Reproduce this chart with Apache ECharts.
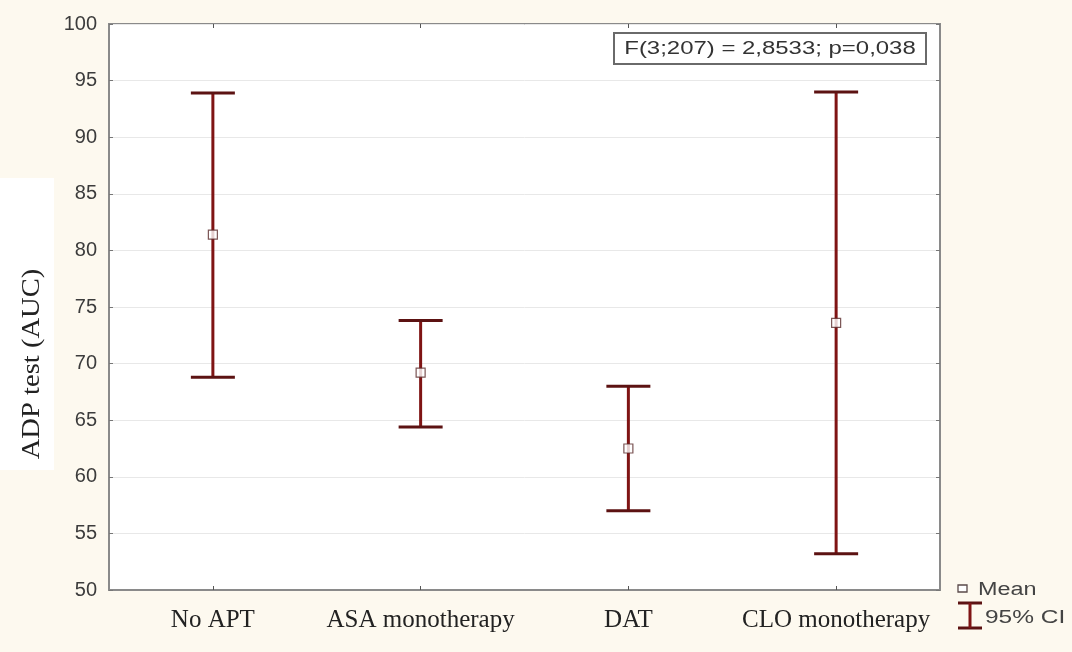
<!DOCTYPE html>
<html>
<head>
<meta charset="utf-8">
<script src="https://cdn.jsdelivr.net/npm/echarts@6/dist/echarts.min.js"></script>
<style>
html,body{margin:0;padding:0;background:#fdf9ef;}
#c{width:1072px;height:652px;}
</style>
</head>
<body>
<div id="c"></div>
<script>
var categories = ['No APT', 'ASA monotherapy', 'DAT', 'CLO monotherapy'];
var means = [81.4, 69.2, 62.5, 73.6];
var ciLow = [68.8, 64.4, 57.0, 53.2];
var ciHigh = [93.9, 73.8, 68.0, 94.0];
var yMin = 50, yMax = 100, yStep = 5;
var yTitle = 'ADP test (AUC)';
var statText = 'F(3;207) = 2,8533; p=0,038';
var legendMean = 'Mean';
var legendCI = '95% CI';

var chart = echarts.init(document.getElementById('c'));
var red = '#7f1414';
var capRed = '#5c1212';
var ciData = categories.map(function (c, i) { return [i, ciLow[i], ciHigh[i]]; });
var meanData = categories.map(function (c, i) { return [i, means[i]]; });

chart.setOption({
  backgroundColor: '#fdf9ef',
  animation: false,
  grid: { left: 109, right: 132, top: 24, bottom: 62, show: true, backgroundColor: '#ffffff', borderColor: '#8a8a8a', borderWidth: 2 },
  xAxis: [{
    type: 'category', data: categories, boundaryGap: true,
    axisLine: { lineStyle: { color: '#8a8a8a', width: 2 } },
    axisTick: { show: true, alignWithLabel: true, inside: true, length: 4, lineStyle: { color: '#555' } },
    axisLabel: { interval: 0, hideOverlap: false, fontFamily: 'Liberation Serif', fontSize: 25, color: '#222', margin: 18 },
    splitLine: { show: false }
  }, {
    type: 'category', data: categories, position: 'top', boundaryGap: true,
    axisLine: { show: false },
    axisTick: { show: true, alignWithLabel: true, inside: true, length: 4, lineStyle: { color: '#555' } },
    axisLabel: { show: false }
  }],
  yAxis: [{
    type: 'value', min: yMin, max: yMax, interval: yStep,
    axisLine: { show: true, lineStyle: { color: '#8a8a8a', width: 2 } },
    axisTick: { show: true, inside: true, length: 4, lineStyle: { color: '#777' } },
    axisLabel: { fontFamily: 'Liberation Sans', fontSize: 20, color: '#3c3c3c', margin: 12 },
    splitLine: { show: true, lineStyle: { color: '#e8e8e8', width: 1 } }
  }, {
    type: 'value', min: yMin, max: yMax, interval: yStep, position: 'right',
    axisLine: { show: false },
    axisTick: { show: true, inside: true, length: 4, lineStyle: { color: '#777' } },
    axisLabel: { show: false },
    splitLine: { show: false }
  }],
  series: [{
    type: 'custom',
    data: ciData,
    z: 2,
    renderItem: function (params, api) {
      var lo = api.coord([api.value(0), api.value(1)]);
      var hi = api.coord([api.value(0), api.value(2)]);
      var hw = 22;
      return {
        type: 'group',
        children: [
          { type: 'line', shape: { x1: lo[0], y1: lo[1], x2: hi[0], y2: hi[1] }, style: { stroke: red, lineWidth: 3 } },
          { type: 'line', shape: { x1: hi[0] - hw, y1: hi[1], x2: hi[0] + hw, y2: hi[1] }, style: { stroke: capRed, lineWidth: 3 } },
          { type: 'line', shape: { x1: lo[0] - hw, y1: lo[1], x2: lo[0] + hw, y2: lo[1] }, style: { stroke: capRed, lineWidth: 3 } }
        ]
      };
    }
  }, {
    type: 'scatter',
    data: meanData,
    z: 5,
    symbol: 'rect',
    symbolSize: [9, 9],
    itemStyle: { color: '#ffffff', borderColor: '#5a2a2a', borderWidth: 1.2 }
  }],
  graphic: [
    { type: 'rect', z: -10, shape: { x: 0, y: 178, width: 54, height: 292 }, style: { fill: '#ffffff' }, silent: true },
    { type: 'text', z: 10, x: 33, y: 364, rotation: Math.PI / 2, scaleX: 1.3, scaleY: 1.1,
      style: { text: yTitle, fontFamily: 'Liberation Serif', fontSize: 22, fill: '#222', align: 'center', verticalAlign: 'middle' } },
    { type: 'rect', z: 10, shape: { x: 614, y: 33, width: 312, height: 31 }, style: { fill: '#ffffff', stroke: '#6a6a6a', lineWidth: 2 } },
    { type: 'text', z: 11, x: 770, y: 49, scaleX: 1.33,
      style: { text: statText, fontFamily: 'Liberation Sans', fontSize: 18, fill: '#333', align: 'center', verticalAlign: 'middle' } },
    { type: 'rect', z: 10, shape: { x: 958, y: 585, width: 9, height: 7 }, style: { fill: '#ffffff', stroke: '#5a4a4a', lineWidth: 1.3 } },
    { type: 'text', z: 10, x: 978, y: 590, scaleX: 1.3,
      style: { text: legendMean, fontFamily: 'Liberation Sans', fontSize: 18, fill: '#444', verticalAlign: 'middle' } },
    { type: 'polyline', z: 10, shape: { points: [[958, 603], [982, 603]] }, style: { stroke: capRed, lineWidth: 3 } },
    { type: 'polyline', z: 10, shape: { points: [[958, 628], [982, 628]] }, style: { stroke: capRed, lineWidth: 3 } },
    { type: 'polyline', z: 10, shape: { points: [[970, 603], [970, 628]] }, style: { stroke: red, lineWidth: 3 } },
    { type: 'text', z: 10, x: 985, y: 618, scaleX: 1.36,
      style: { text: legendCI, fontFamily: 'Liberation Sans', fontSize: 18, fill: '#444', verticalAlign: 'middle' } }
  ]
});
</script>
</body>
</html>
